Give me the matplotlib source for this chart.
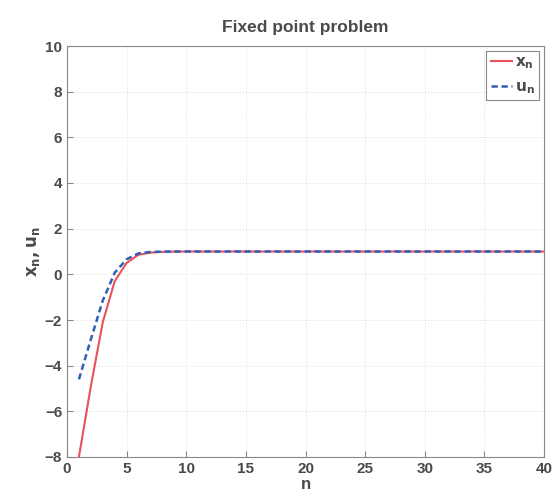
import matplotlib
matplotlib.use("Agg")
import matplotlib.pyplot as plt

n = list(range(1, 41))
x_n = [-8.0, -4.9, -2.1, -0.3, 0.5, 0.86, 0.95, 0.985, 0.995, 1.0] + [1.0] * 30
u_n = [-4.6, -2.85, -1.15, 0.07, 0.66, 0.92, 0.98, 0.995, 1.0, 1.0] + [1.0] * 30

xticks = [0, 5, 10, 15, 20, 25, 30, 35, 40]
yticks = [-8, -6, -4, -2, 0, 2, 4, 6, 8, 10]

tc = "#4a4a4a"
plt.rcParams['font.family'] = ['Liberation Sans', 'DejaVu Sans']

fig = plt.figure(figsize=(5.54, 4.96), dpi=100)
ax = fig.add_axes([67/554, 1-457/496, (544-67)/554, (457-46)/496])

ax.plot(n, x_n, color="#e8505a", lw=1.5, label=r"$\mathbf{x_n}$")
ax.plot(n, u_n, color="#2f5fb8", lw=1.8, ls=(0, (2.5, 1.5)), label=r"$\mathbf{u_n}$")

ax.set_xlim(0, 40)
ax.set_ylim(-8, 10)
ax.set_xticks(xticks)
ax.set_yticks(yticks)
ax.grid(True, color="#e0e0e0", ls=":", lw=0.7)
ax.tick_params(direction="in", length=4, color="#888888", labelcolor=tc, labelsize=11)
for lab in ax.get_xticklabels() + ax.get_yticklabels():
    lab.set_fontweight("bold")
for s in ax.spines.values():
    s.set_color("#888888")
    s.set_linewidth(0.8)

ax.set_title("Fixed point problem", fontsize=12.5, fontweight="bold", color=tc, pad=10)
ax.set_xlabel("n", fontsize=12, fontweight="bold", color=tc, labelpad=1)
ax.set_ylabel(r"$\mathbf{x_n,u_n}$", fontsize=12, color=tc, labelpad=2)

leg = ax.legend(loc="upper right", fontsize=11, handlelength=1.4, handletextpad=0.2,
                borderaxespad=0.3, fancybox=False, framealpha=1, borderpad=0.3,
                labelspacing=0.6)
leg.get_frame().set_edgecolor("#888888")
leg.get_frame().set_linewidth(0.8)
for t in leg.get_texts():
    t.set_color(tc)

fig.savefig("out.png", dpi=100)
